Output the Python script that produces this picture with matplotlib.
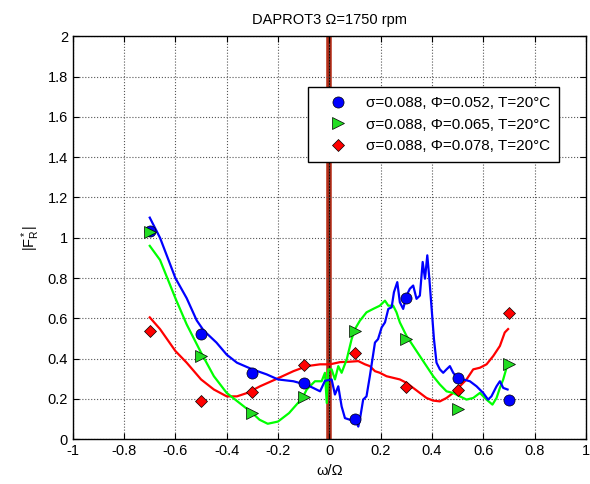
import matplotlib
matplotlib.use("Agg")
import matplotlib.pyplot as plt
from matplotlib.ticker import FuncFormatter

plt.rcParams["font.family"] = ["Liberation Sans", "DejaVu Sans"]
plt.rcParams["axes.unicode_minus"] = False
plt.rcParams["mathtext.default"] = "regular"

# measured curves
blue_x = [-0.70, -0.66, -0.60, -0.556, -0.517, -0.49, -0.44, -0.40, -0.36, -0.30,
          -0.244, -0.20, -0.14, -0.088, -0.063, -0.036, -0.017, 0.009, 0.022, 0.035,
          0.048, 0.061, 0.08, 0.10, 0.113, 0.119, 0.132, 0.145, 0.158, 0.178,
          0.19, 0.204, 0.217, 0.23, 0.243, 0.252, 0.265, 0.275, 0.288, 0.301,
          0.314, 0.327, 0.34, 0.353, 0.364, 0.373, 0.382, 0.39, 0.399, 0.408,
          0.418, 0.431, 0.444, 0.457, 0.47, 0.483, 0.50, 0.522, 0.548, 0.574,
          0.60, 0.619, 0.632, 0.652, 0.665, 0.678, 0.695]
blue_y = [1.10, 1.00, 0.80, 0.70, 0.59, 0.54, 0.48, 0.42, 0.38, 0.347,
          0.322, 0.297, 0.288, 0.27, 0.255, 0.238, 0.29, 0.297, 0.222, 0.263,
          0.163, 0.105, 0.097, 0.105, 0.063, 0.097, 0.197, 0.213, 0.313, 0.48,
          0.497, 0.555, 0.58, 0.647, 0.655, 0.73, 0.78, 0.68, 0.647, 0.713,
          0.747, 0.763, 0.697, 0.713, 0.88, 0.797, 0.913, 0.797, 0.647, 0.497,
          0.38, 0.347, 0.33, 0.347, 0.363, 0.33, 0.305, 0.297, 0.288, 0.263,
          0.23, 0.197, 0.213, 0.263, 0.288, 0.255, 0.247]

green_x = [-0.70, -0.66, -0.60, -0.556, -0.50, -0.45, -0.40, -0.35, -0.30, -0.272,
           -0.24, -0.20, -0.157, -0.105, -0.088, -0.056, -0.03, -0.017, -0.01, -0.004,
           0.009, 0.022, 0.035, 0.048, 0.068, 0.087, 0.10, 0.119, 0.145, 0.171,
           0.197, 0.217, 0.23, 0.249, 0.262, 0.275, 0.301, 0.327, 0.353, 0.379,
           0.405, 0.431, 0.457, 0.483, 0.509, 0.535, 0.561, 0.587, 0.613, 0.636,
           0.652, 0.665, 0.678, 0.691, 0.695]
green_y = [0.96, 0.89, 0.70, 0.57, 0.43, 0.313, 0.23, 0.18, 0.13, 0.097,
           0.077, 0.088, 0.13, 0.205, 0.247, 0.288, 0.288, 0.33, 0.18, 0.347,
           0.347, 0.297, 0.363, 0.33, 0.397, 0.497, 0.547, 0.588, 0.63, 0.647,
           0.663, 0.688, 0.663, 0.663, 0.63, 0.58, 0.513, 0.463, 0.413, 0.363,
           0.313, 0.272, 0.238, 0.23, 0.213, 0.197, 0.205, 0.23, 0.197, 0.172,
           0.205, 0.255, 0.297, 0.355, 0.363]

red_x = [-0.70, -0.66, -0.60, -0.556, -0.50, -0.45, -0.40, -0.36, -0.32, -0.27,
         -0.21, -0.14, -0.088, -0.036, 0.003, 0.042, 0.08, 0.113, 0.139, 0.158,
         0.178, 0.197, 0.223, 0.249, 0.275, 0.301, 0.327, 0.353, 0.379, 0.405,
         0.431, 0.457, 0.483, 0.509, 0.535, 0.561, 0.587, 0.613, 0.639, 0.665,
         0.684, 0.697]
red_y = [0.605, 0.547, 0.438, 0.38, 0.297, 0.247, 0.213, 0.213, 0.23, 0.263,
         0.297, 0.338, 0.363, 0.372, 0.372, 0.383, 0.385, 0.388, 0.372, 0.363,
         0.338, 0.33, 0.313, 0.305, 0.297, 0.28, 0.255, 0.23, 0.205, 0.192,
         0.188, 0.205, 0.23, 0.263, 0.297, 0.347, 0.355, 0.372, 0.413, 0.463,
         0.53, 0.547]

# predicted points
pts_x = [-0.7, -0.5, -0.3, -0.1, 0.1, 0.3, 0.5, 0.7]
blue_pts = [1.035, 0.522, 0.327, 0.278, 0.10, 0.703, 0.305, 0.197]
green_pts = [1.027, 0.413, 0.13, 0.208, 0.537, 0.497, 0.152, 0.373]
red_pts = [0.537, 0.188, 0.235, 0.367, 0.43, 0.258, 0.243, 0.625]

labels = ["σ=0.088, Φ=0.052, T=20°C",
          "σ=0.088, Φ=0.065, T=20°C",
          "σ=0.088, Φ=0.078, T=20°C"]

fig = plt.figure(figsize=(5.9, 4.84), dpi=100)
ax = fig.add_axes([0.1234, 0.0924, 0.8695, 0.8326])

ax.axvline(-0.002, color="#b8301a", lw=4, zorder=1)
ax.axvline(0.0, color="#200000", lw=0.9, zorder=1)

ax.plot(red_x, red_y, color="#ff0000", lw=1.6, zorder=2)
ax.plot(green_x, green_y, color="#00ff00", lw=1.6, zorder=2)
ax.plot(blue_x, blue_y, color="#0000ff", lw=1.6, zorder=2)

h1, = ax.plot(pts_x, blue_pts, "o", color="#0000ff", mec="k", mew=0.5,
              ms=8, ls="none", label=labels[0], zorder=3)
h2, = ax.plot(pts_x, green_pts, ">", color="#22dd22", mec="k", mew=0.5,
              ms=8, ls="none", label=labels[1], zorder=3)
h3, = ax.plot(pts_x, red_pts, "D", color="#ff0000", mec="k", mew=0.5,
              ms=6.5, ls="none", label=labels[2], zorder=3)

ax.set_xlim(-1, 1)
ax.set_ylim(0, 2)
ax.set_xticks([i / 10 for i in range(-10, 11, 2)])
ax.set_yticks([i / 10 for i in range(0, 21, 2)])
ax.xaxis.set_major_formatter(FuncFormatter(lambda v, p: "%g" % round(v, 2)))
ax.yaxis.set_major_formatter(FuncFormatter(lambda v, p: "%g" % round(v, 2)))
ax.tick_params(direction="in", top=True, right=True, length=4, labelsize=10.5)
ax.grid(True, color="#555555", ls=":", lw=0.8)
for s in ax.spines.values():
    s.set_linewidth(1.0)

ax.set_title("DAPROT3 Ω=1750 rpm", fontsize=10.5, pad=9)
ax.set_xlabel("ω/Ω", fontsize=10.5)
ax.set_ylabel("|F$_R^*$|", fontsize=10.5)

leg = ax.legend(handles=[h1, h2, h3], loc="upper right",
                bbox_to_anchor=(0.948, 0.873), borderaxespad=0, fontsize=11,
                fancybox=False, framealpha=1, edgecolor="k", borderpad=0.55,
                handletextpad=0.4, handlelength=2.9, labelspacing=0.5)
leg.get_frame().set_linewidth(1.0)
leg.set_zorder(5)

fig.savefig("out.png", dpi=100)
